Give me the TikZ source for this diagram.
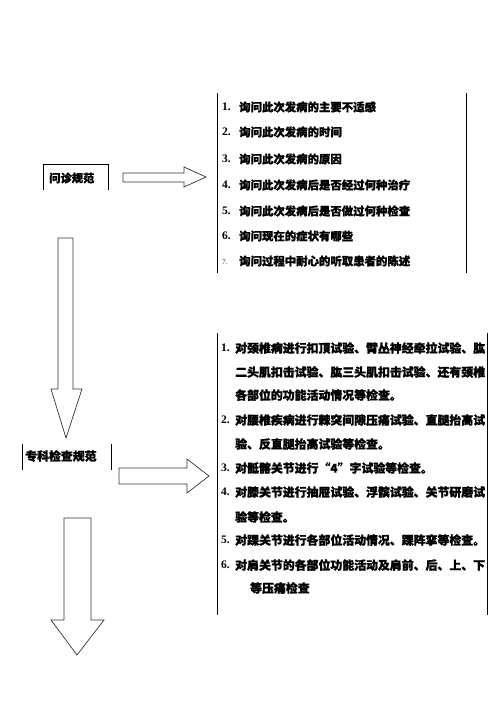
\documentclass[tikz,border=0pt]{standalone}
\usepackage{fontspec}
\newfontfamily\cjk[BoldFeatures={FakeBold=1.2}]{Noto Sans CJK SC}
\newfontfamily\lat{Liberation Serif}
\tikzset{
  box/.style={line width=0.8pt, draw=black},
  blockarrow/.style={line width=0.7pt, draw=black!80, fill=white},
  item/.style={anchor=west, inner sep=0pt, font=\cjk\bfseries\fontsize{11.4pt}{13pt}\selectfont},
  itemb/.style={anchor=west, inner sep=0pt, font=\cjk\bfseries\fontsize{11.9pt}{13pt}\selectfont},
  num/.style={anchor=west, inner sep=0pt, font=\lat\bfseries\fontsize{11.5pt}{13pt}\selectfont},
  label/.style={anchor=west, inner sep=0pt, font=\cjk\bfseries\fontsize{11.3pt}{13pt}\selectfont},
}
\begin{document}
\begin{tikzpicture}[x=1pt,y=-1pt]
\useasboundingbox (0,0) rectangle (496,702);
% label 1
\draw[box] (43,190) -- (43,164) -- (108,164) -- (108,190);
\node[label] (l1) at (49,178) {问诊规范};
% label 2
\draw[box] (22,444) -- (22,470);
\draw[box] (111,444) -- (111,470);
\node[label,font=\cjk\bfseries\fontsize{11.9pt}{13pt}\selectfont] (l2) at (25,456) {专科检查规范};
% right arrow 1
\draw[blockarrow] (123,173) -- (184,173) -- (184,167) -- (206,177) -- (184,187) -- (184,182) -- (123,182) -- cycle;
% right arrow 2
\draw[blockarrow] (119,468) -- (187,468) -- (187,459) -- (209,476) -- (187,493) -- (187,484) -- (119,484) -- cycle;
% down arrow 1
\draw[blockarrow] (58,238) -- (73,238) -- (73,389) -- (82,389) -- (66,438) -- (51,389) -- (58,389) -- cycle;
% down arrow 2
\draw[blockarrow] (64,518) -- (91,518) -- (91,620) -- (104,620) -- (77,655) -- (51,620) -- (64,620) -- cycle;
% text box 1
\draw[box] (217,93) -- (217,273);
\draw[box] (466,93) -- (466,273);
\node[num] (n11) at (222,107) {1.};
\node[item] (t11) at (239,107) {询问此次发病的主要不适感};
\node[num] (n12) at (222,132) {2.};
\node[item] (t12) at (239,132) {询问此次发病的时间};
\node[num] (n13) at (222,159) {3.};
\node[item] (t13) at (239,159) {询问此次发病的原因};
\node[num] (n14) at (222,185) {4.};
\node[item] (t14) at (239,185) {询问此次发病后是否经过何种治疗};
\node[num] (n15) at (222,211) {5.};
\node[item] (t15) at (239,211) {询问此次发病后是否做过何种检查};
\node[num] (n16) at (222,236) {6.};
\node[item] (t16) at (239,236) {询问现在的症状有哪些};
\node[num,font=\lat\fontsize{7.5pt}{9pt}\selectfont,text=black!75] (n17) at (222,262) {7.};
\node[item] (t17) at (239,261) {询问过程中耐心的听取患者的陈述};
% text box 2
\draw[box] (217,333) -- (217,615);
\draw[box] (487,333) -- (487,615);
\node[num] (n21) at (221,348) {1.};
\node[itemb] (t21a) at (235,348) {对颈椎病进行扣顶试验、臂丛神经牵拉试验、肱};
\node[itemb] (t21b) at (235,372) {二头肌扣击试验、肱三头肌扣击试验、还有颈椎};
\node[itemb] (t21c) at (235,395) {各部位的功能活动情况等检查。};
\node[num] (n22) at (221,420) {2.};
\node[itemb] (t22a) at (235,420) {对腰椎疾病进行棘突间隙压痛试验、直腿抬高试};
\node[itemb] (t22b) at (235,444) {验、反直腿抬高试验等检查。};
\node[num] (n23) at (221,468) {3.};
\node[itemb] (t23) at (235,468) {对骶髂关节进行“4”字试验等检查。};
\node[num] (n24) at (221,492) {4.};
\node[itemb] (t24a) at (235,492) {对膝关节进行抽屉试验、浮髌试验、关节研磨试};
\node[itemb] (t24b) at (235,517) {验等检查。};
\node[num] (n25) at (221,540) {5.};
\node[itemb] (t25) at (235,540) {对踝关节进行各部位活动情况、踝阵挛等检查。};
\node[num] (n26) at (221,565) {6.};
\node[itemb] (t26a) at (235,565) {对肩关节的各部位功能活动及肩前、后、上、下};
\node[itemb] (t26b) at (250,588) {等压痛检查};
\end{tikzpicture}
\end{document}
